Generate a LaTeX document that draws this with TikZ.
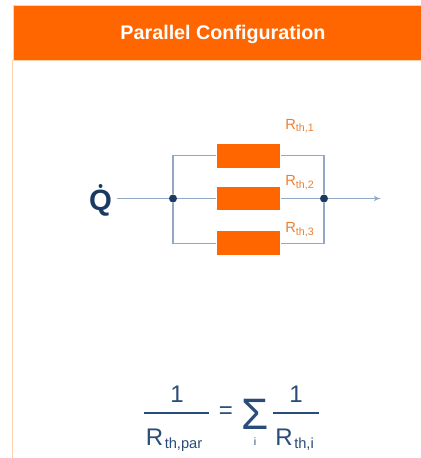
\documentclass[tikz,border=0pt]{standalone}
\usepackage{fontspec}
\setmainfont{Liberation Sans}
\usetikzlibrary{shapes.geometric, arrows}
\definecolor{banner}{HTML}{FF6600}
\definecolor{paleorange}{HTML}{FFD2B0}
\definecolor{wire}{HTML}{93A8C4}
\definecolor{navy}{HTML}{1B3A63}
\definecolor{mathblue}{HTML}{2A4C78}
\definecolor{labelorange}{HTML}{EE7F30}
\newcommand{\lowered}[2]{\raisebox{-#1}{#2}}
\tikzstyle{bannerbox} =
[rectangle, minimum width = 306pt, minimum height = 41pt, inner sep = 0pt,
fill=banner, draw=paleorange, line width = 0.4pt]
\tikzstyle{title} =
[text=white, font=\fontsize{14.8pt}{17pt}\selectfont\bfseries]
\tikzstyle{resistor} =
[rectangle, minimum width = 47.7pt, minimum height = 17.6pt, inner sep = 0pt,
fill=banner]
\tikzstyle{junction} =
[circle, minimum size = 6pt, inner sep = 0pt, fill=navy]
\tikzstyle{rlabel} =
[text=labelorange, inner sep = 0pt, font=\fontsize{11pt}{13pt}\selectfont]
\tikzstyle{flow} =
[text=navy, inner sep = 0pt, font=\fontsize{22pt}{26pt}\selectfont\bfseries]
\tikzstyle{numer} =
[text=mathblue, inner sep = 0pt, font=\fontsize{18pt}{21pt}\selectfont]
\tikzstyle{small} =
[text=mathblue, inner sep = 0pt, font=\fontsize{8pt}{10pt}\selectfont]
\tikzstyle{wireline} = [draw=wire, line width = 0.8pt]
\tikzstyle{line} = [draw=wire, line width = 0.8pt, -latex']
\tikzstyle{bar} = [draw=mathblue, line width = 1pt]
\begin{document}
\begin{tikzpicture}[x=0.75pt, y=-0.75pt, node distance = 31.5pt]
  \useasboundingbox [fill=white] (0,0) rectangle (421,458);
  % page border and banner
  \coordinate (bordertop) at (12.5,60);
  \coordinate (borderend) at (12.5,458);
  \path [draw=paleorange, line width = 0.6pt] (bordertop) -- (borderend);
  \node [bannerbox, anchor=north west] (head) at (12.5,5) {};
  \node [title] (headtext) at (223,34) {Parallel Configuration};
  % resistors
  \node [resistor] (rtwo) at (248.5,198.5) {};
  \node [resistor, above of=rtwo, node distance = 32pt] (rone) {};
  \node [resistor, below of=rtwo, node distance = 33.5pt] (rthree) {};
  \node [rlabel] (lone) at (299.5,126) {R\lowered{2pt}{\fontsize{8pt}{9pt}\selectfont th,1}};
  \node [rlabel] (ltwo) at (299.5,182.5) {R\lowered{2pt}{\fontsize{8pt}{9pt}\selectfont th,2}};
  \node [rlabel] (lthree) at (299.5,229.5) {R\lowered{2pt}{\fontsize{8pt}{9pt}\selectfont th,3}};
  % junctions and flow
  \node [junction] (jleft) at (173,198.5) {};
  \node [junction] (jright) at (324,198.5) {};
  \node [flow] (qdot) at (100.5,203) {Q};
  \node [circle, minimum size = 3pt, inner sep = 0pt, fill=navy] (qmark) at (100.5,186) {};
  \coordinate (wirein) at (116.5,198.5);
  \coordinate (wireout) at (381,198.5);
  % wires
  \path [wireline] (wirein) -- (jleft);
  \path [wireline] (jleft) -- (rtwo);
  \path [wireline] (rtwo) -- (jright);
  \path [wireline] (jleft) |- (rone);
  \path [wireline] (jleft) |- (rthree);
  \path [wireline] (jright) |- (rone);
  \path [wireline] (jright) |- (rthree);%|
  \path [line] (jright) -- (wireout);
  % formula
  \node [numer] (oneleft) at (177,394) {1};
  \node [numer] (rleft) at (154.5,437) {R};
  \node [small, font=\fontsize{11pt}{13pt}\selectfont, anchor=base west] (subleft) at (164.5,448) {th,par};
  \coordinate (barlefta) at (144,413);
  \coordinate (barleftb) at (209,413);
  \path [bar] (barlefta) -- (barleftb);
  \node [numer] (equal) at (226,413) {=};
  \node [numer, font=\fontsize{33pt}{36pt}\selectfont] (sigma) at (255,414) {Σ};
  \node [small] (sumindex) at (255,442) {i};
  \node [numer] (oneright) at (296,394) {1};
  \node [numer] (rright) at (284,437) {R};
  \node [small, font=\fontsize{11pt}{13pt}\selectfont, anchor=base west] (subright) at (294,448) {th,i};
  \coordinate (barrighta) at (273,413);
  \coordinate (barrightb) at (319,413);
  \path [bar] (barrighta) -- (barrightb);
\end{tikzpicture}
\end{document}
